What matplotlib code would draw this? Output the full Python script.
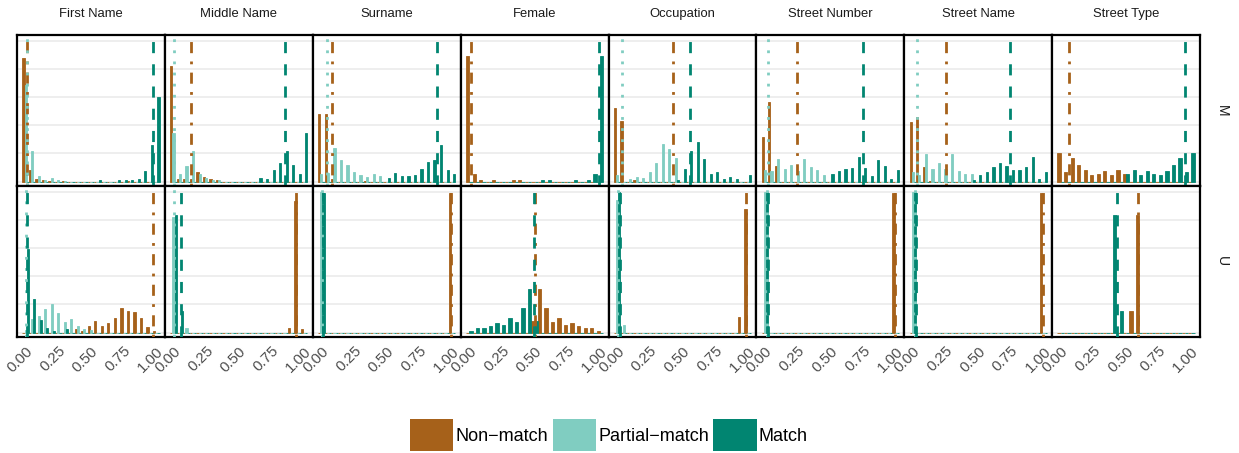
import numpy as np
import matplotlib
matplotlib.use("Agg")
import matplotlib.pyplot as plt
from matplotlib.patches import Patch

plt.rcParams['font.family'] = ['Liberation Sans', 'DejaVu Sans']

fields = ["First Name", "Middle Name", "Surname", "Female",
          "Occupation", "Street Number", "Street Name", "Street Type"]
rows = ["M", "U"]
categories = ["Non\u2212match", "Partial\u2212match", "Match"]
colors = ["#A6611A", "#80CDC1", "#018571"]
line_styles = [(0, (1, 3, 4, 3)), (0, (1, 3)), (0, (4, 4))]

# bin centres of the histograms (binwidth 0.05)
bin_centers = np.linspace(0, 1, 21)
bin_width = 0.05

# share of records per bin, matches (M)
non_m = {
    "First Name":    [.88, .083, .02, .008, .003, 0, .003, 0, 0, 0, 0, 0, 0, 0, 0, 0, .003, 0, 0, 0, 0],
    "Middle Name":   [.82, .02, .02, .02, .068, .033, .015, .01, 0, 0, 0, 0, 0, 0, 0, 0, 0, 0, 0, 0, 0],
    "Surname":       [.48, .48, .015, 0, 0, 0, 0, .004, 0, 0, 0, 0, 0, 0, 0, 0, 0, 0, 0, 0, 0],
    "Female":        [.896, .05, .01, 0, .008, 0, 0, .008, .008, 0, 0, 0, 0, 0, 0, 0, 0, 0, 0, 0, 0],
    "Occupation":    [.523, .434, 0, .012, 0, 0, 0, 0, 0, 0, 0, 0, 0, 0, 0, 0, 0, 0, 0, 0, 0],
    "Street Number": [.316, .564, .11, 0, 0, 0, 0, 0, 0, 0, 0, 0, 0, 0, 0, 0, 0, 0, 0, 0, 0],
    "Street Name":   [.424, .457, .1, .005, 0, 0, 0, 0, 0, 0, 0, 0, 0, 0, 0, 0, 0, 0, 0, 0, 0],
    "Street Type":   [.203, .069, .17, .118, .083, .047, .054, .076, .047, .083, .054, 0, 0, 0, 0, 0, 0, 0, 0, 0, 0],
}
partial_m = {
    "First Name":    [.69, .217, .04, .01, .026, .012, .004, 0, 0, 0, 0, 0, 0, 0, 0, 0, 0, 0, 0, 0, 0],
    "Middle Name":   [.347, .05, .11, .217, .05, .025, .01, .01, 0, 0, 0, 0, 0, 0, 0, 0, 0, 0, 0, 0, 0],
    "Surname":       [.05, .06, .236, .154, .118, .068, .047, .033, .054, .04, 0, 0, 0, 0, 0, 0, 0, 0, 0, 0, 0],
    "Female":        None,
    "Occupation":    [.047, 0, .02, .035, .028, .068, .132, .266, .231, .17, 0, 0, 0, 0, 0, 0, 0, 0, 0, 0, 0],
    "Street Number": [.082, .075, .16, .09, .118, .075, .16, .106, .082, .047, 0, 0, 0, 0, 0, 0, 0, 0, 0, 0, 0],
    "Street Name":   [.068, .047, .195, .09, .132, .09, .195, .075, .054, .054, 0, 0, 0, 0, 0, 0, 0, 0, 0, 0, 0],
    "Street Type":   None,
}
match_m = {
    "First Name":    [0, 0, 0, 0, 0, 0, 0, 0, 0, 0, 0, .008, 0, 0, .008, .01, .01, .02, .075, .26, .6],
    "Middle Name":   [0, 0, 0, 0, 0, 0, 0, 0, 0, 0, 0, 0, 0, .025, .02, .085, .13, .217, .115, .05, .347],
    "Surname":       [0, 0, 0, 0, 0, 0, 0, 0, 0, 0, .028, .057, .04, .04, .047, .092, .14, .154, .258, .082, .05],
    "Female":        [0, 0, 0, 0, 0, 0, 0, 0, 0, 0, 0, .008, .008, 0, 0, 0, .008, 0, .008, .05, .896],
    "Occupation":    [0, 0, 0, 0, 0, 0, 0, 0, 0, .01, .092, .217, .28, .163, .052, .068, .016, .035, .016, 0, .047],
    "Street Number": [0, 0, 0, 0, 0, 0, 0, 0, 0, 0, .054, .075, .09, .097, .175, .097, .04, .154, .11, .02, .082],
    "Street Name":   [0, 0, 0, 0, 0, 0, 0, 0, 0, .012, .047, .068, .106, .132, .11, .082, .082, .106, .177, .02, .068],
    "Street Type":   [0, 0, 0, 0, 0, 0, 0, 0, 0, 0, .054, .083, .047, .076, .054, .047, .076, .118, .168, .069, .203],
}

# share of records per bin, non-matches (U)
non_u = {
    "First Name":    [0, 0, 0, 0, 0, 0, 0, 0, .024, .01, .045, .081, .045, .067, .102, .174, .152, .145, .102, .038, .01],
    "Middle Name":   [0, 0, 0, 0, 0, 0, 0, 0, 0, 0, 0, 0, 0, 0, 0, 0, 0, 0, .031, .938, .024],
    "Surname":       [0, 0, 0, 0, 0, 0, 0, 0, 0, 0, 0, 0, 0, 0, 0, 0, 0, 0, 0, 0, .995],
    "Female":        [0, 0, 0, 0, 0, 0, 0, 0, 0, 0, .081, .31, .174, .074, .102, .052, .067, .045, .031, .031, .01],
    "Occupation":    [0, 0, 0, 0, 0, 0, 0, 0, 0, 0, 0, 0, 0, 0, 0, 0, 0, 0, 0, .109, .88],
    "Street Number": [0, 0, 0, 0, 0, 0, 0, 0, 0, 0, 0, 0, 0, 0, 0, 0, 0, 0, 0, 0, .995],
    "Street Name":   [0, 0, 0, 0, 0, 0, 0, 0, 0, 0, 0, 0, 0, 0, 0, 0, 0, 0, 0, 0, .995],
    "Street Type":   [0, 0, 0, 0, 0, 0, 0, 0, 0, 0, 0, .152, .838, 0, 0, 0, 0, 0, 0, 0, 0],
}
partial_u = {
    "First Name":    [.02, .095, .117, .167, .202, .138, .074, .095, .045, .024, .017, 0, 0, 0, 0, 0, 0, 0, 0, 0, 0],
    "Middle Name":   [.82, 0, .031, 0, 0, 0, 0, 0, 0, 0, 0, 0, 0, 0, 0, 0, 0, 0, 0, 0, 0],
    "Surname":       [1.0, 0, 0, 0, 0, 0, 0, 0, 0, 0, 0, 0, 0, 0, 0, 0, 0, 0, 0, 0, 0],
    "Female":        None,
    "Occupation":    [.94, .052, 0, 0, 0, 0, 0, 0, 0, 0, 0, 0, 0, 0, 0, 0, 0, 0, 0, 0, 0],
    "Street Number": [1.0, 0, 0, 0, 0, 0, 0, 0, 0, 0, 0, 0, 0, 0, 0, 0, 0, 0, 0, 0, 0],
    "Street Name":   [1.0, 0, 0, 0, 0, 0, 0, 0, 0, 0, 0, 0, 0, 0, 0, 0, 0, 0, 0, 0, 0],
    "Street Type":   None,
}
match_u = {
    "First Name":    [.595, .238, .088, .031, .01, 0, .024, 0, 0, 0, 0, 0, 0, 0, 0, 0, 0, 0, 0, 0, 0],
    "Middle Name":   [.838, .152, 0, 0, 0, 0, 0, 0, 0, 0, 0, 0, 0, 0, 0, 0, 0, 0, 0, 0, 0],
    "Surname":       [.995, 0, 0, 0, 0, 0, 0, 0, 0, 0, 0, 0, 0, 0, 0, 0, 0, 0, 0, 0, 0],
    "Female":        [.01, .031, .031, .045, .067, .052, .102, .074, .174, .31, .081, 0, 0, 0, 0, 0, 0, 0, 0, 0, 0],
    "Occupation":    [1.0, 0, 0, 0, 0, 0, 0, 0, 0, 0, 0, 0, 0, 0, 0, 0, 0, 0, 0, 0, 0],
    "Street Number": [1.0, 0, 0, 0, 0, 0, 0, 0, 0, 0, 0, 0, 0, 0, 0, 0, 0, 0, 0, 0, 0],
    "Street Name":   [1.0, 0, 0, 0, 0, 0, 0, 0, 0, 0, 0, 0, 0, 0, 0, 0, 0, 0, 0, 0, 0],
    "Street Type":   [0, 0, 0, 0, 0, 0, 0, 0, .838, .152, 0, 0, 0, 0, 0, 0, 0, 0, 0, 0, 0],
}

# mean posterior per category (non-match, partial, match)
means_m = {
    "First Name": (.01, .01, .975), "Middle Name": (.135, .005, .853),
    "Surname": (.082, .04, .882), "Female": (.01, None, .993),
    "Occupation": (.425, .04, .555), "Street Number": (.246, .025, .752),
    "Street Name": (.255, .034, .745), "Street Type": (.065, None, .955),
}
means_u = {
    "First Name": (.978, .004, .014), "Middle Name": (.935, .005, .056),
    "Surname": (.99, .008, .015), "Female": (.505, None, .495),
    "Occupation": (.984, .01, .022), "Street Number": (.995, .013, .02),
    "Street Name": (.995, .014, .024), "Street Type": (.59, None, .43),
}

hist_data = {"M": (non_m, partial_m, match_m), "U": (non_u, partial_u, match_u)}
mean_data = {"M": means_m, "U": means_u}

fig = plt.figure(figsize=(12.39, 4.53), dpi=100)
gs = fig.add_gridspec(2, 8, left=17/1239, right=1200/1239,
                      top=1 - 35/453, bottom=1 - 337/453, wspace=0, hspace=0)

for r, row in enumerate(rows):
    for c, field in enumerate(fields):
        ax = fig.add_subplot(gs[r, c])
        series = [(vals[field], colors[i]) for i, vals in enumerate(hist_data[row])
                  if vals[field] is not None]
        n = len(series)
        slot = bin_width / n
        for i, (vals, col) in enumerate(series):
            xs = bin_centers + (i - (n - 1) / 2) * slot
            ax.bar(xs, vals, width=slot, color=col, edgecolor=col, linewidth=0.6, zorder=2)
        for i, m in enumerate(mean_data[row][field]):
            if m is not None:
                ax.axvline(m, color=colors[i], linewidth=2.0, linestyle=line_styles[i],
                           dash_capstyle='butt', zorder=3)

        ax.set_xlim(-0.066, 1.066)
        ax.set_ylim(-0.032, 1.043)
        ax.set_yticks(np.arange(0, 1.01, 0.2))
        ax.set_yticklabels([])
        ax.grid(axis='y', color='#EBEBEB', linewidth=1.2)
        ax.set_axisbelow(True)
        ax.set_xticks([0, 0.25, 0.5, 0.75, 1.0])
        ax.tick_params(length=0)
        if r == 1:
            ax.set_xticklabels(["0.00", "0.25", "0.50", "0.75", "1.00"], rotation=45,
                               ha='right', va='top', rotation_mode='anchor',
                               color='#4D4D4D', fontsize=10.8)
            ax.tick_params(axis='x', pad=5)
        else:
            ax.set_xticklabels([])
        for sp in ax.spines.values():
            sp.set_linewidth(1.6)
            sp.set_color('black')

        if r == 0:
            pos = ax.get_position()
            fig.text((pos.x0 + pos.x1) / 2, 1 - 14/453, field, ha='center', va='center',
                     fontsize=9.4, color='#1A1A1A')
        if c == 7:
            pos = ax.get_position()
            fig.text(1222/1239, (pos.y0 + pos.y1) / 2, row, ha='center', va='center',
                     rotation=-90, fontsize=10, color='#1A1A1A')

handles = [Patch(facecolor=col, edgecolor='none') for col in colors]
fig.legend(handles, categories, loc='center', bbox_to_anchor=(609/1239, 18/453),
           ncol=3, frameon=False, fontsize=13, handlelength=2.4, handleheight=2.4,
           handletextpad=0.12, columnspacing=0.25, borderpad=0, borderaxespad=0)

fig.savefig("out.png", dpi=100)
